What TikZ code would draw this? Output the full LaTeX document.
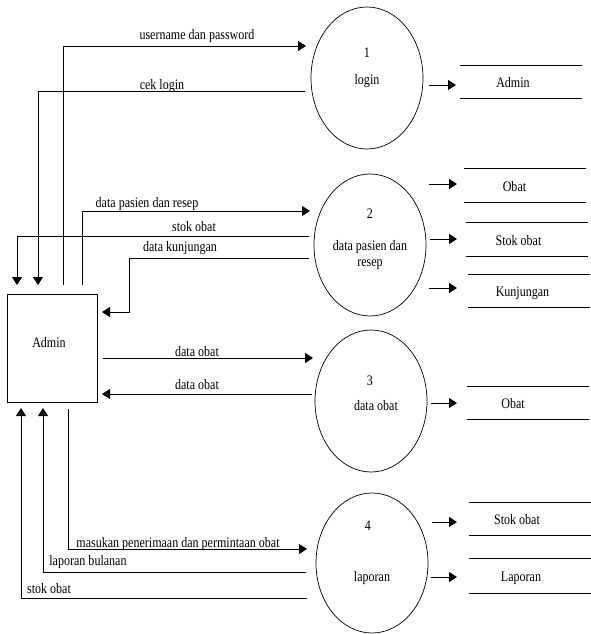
\documentclass[tikz,border=0pt]{standalone}
\usepackage{fontspec}
\setmainfont{Liberation Serif}[FakeStretch=0.83]
\usetikzlibrary{arrows.meta,shapes.geometric,calc}
\begin{document}
\begin{tikzpicture}[x=1pt,y=-1pt,
  every node/.style={font=\fontsize{14.5}{17}\selectfont, inner sep=0pt, outer sep=0pt},
  flow/.style={line width=0.9pt, -{Triangle[length=8pt,width=10pt]}},
  proc/.style={ellipse, draw, line width=0.7pt, minimum width=112pt, minimum height=142pt},
  entity/.style={rectangle, draw, line width=0.9pt, minimum width=90pt, minimum height=108pt},
  store/.style={minimum width=122pt, minimum height=#1, text height=15pt, text depth=2.5pt},
  tshift/.style={execute at begin node={\hspace*{#1}}},
  lbl/.style={anchor=base},
]
\useasboundingbox (0,0) rectangle (590,634);

% external entity
\node[entity] (admin) at (52,348) {};
\node[lbl] (adminT) at (49,347) {Admin};

% processes
\node[proc] (p1) at (367,78) {};
\node[lbl] (p1n) at (367,57) {1};
\node[lbl] (p1t) at (367,84) {login};

\node[proc] (p2) at (370,245) {};
\node[lbl] (p2n) at (370,218) {2};
\node[lbl] (p2t) at (370,250) {data pasien dan};
\node[lbl] (p2u) at (370,266) {resep};

\node[proc] (p3) at (371,401) {};
\node[lbl] (p3n) at (370,385) {3};
\node[lbl] (p3t) at (376,410) {data obat};

\node[proc, minimum height=140pt] (p4) at (372,563) {};
\node[lbl] (p4n) at (368,530) {4};
\node[lbl] (p4t) at (372,581) {laporan};

% data stores
\node[store=33pt, tshift=-16pt] (sA)  at (521,81.5)  {Admin};
\node[store=34pt, tshift=-21pt] (sO2) at (525,185)   {Obat};
\node[store=34pt, tshift=-17pt] (sS2) at (527,239)   {Stok obat};
\node[store=33pt, tshift=-13pt] (sK)  at (529,290.5) {Kunjungan};
\node[store=33pt, tshift=-30pt] (sO3) at (528,402.5) {Obat};
\node[store=33pt, tshift=-26pt] (sS4) at (530,518.5) {Stok obat};
\node[store=35pt, tshift=-18pt] (sL)  at (530,575.5) {Laporan};
\foreach \s in {sA,sO2,sS2,sK,sO3,sS4,sL}
  \draw[line width=0.9pt] (\s.north west) -- (\s.north east)
                          (\s.south west) -- (\s.south east);

% flows between Admin and the processes
\draw[flow] ($(admin.north)+(11,-9)$) |- ($(p1.west)+(-5,-32)$);
\draw[flow] ($(p1.west)+(-6,13)$) -| ($(admin.north)+(-14,-9)$);
\draw[flow] ($(admin.north)+(30,-9)$) |- ($(p2.west)+(-4,-34)$);
\draw[flow] ($(p2.west)+(-5,-9)$) -| ($(admin.north)+(-35,-9)$);
\draw[flow] ($(p2.west)+(-5,13)$) -| ($(admin.east)+(32,-36)$) -- ($(admin.east)+(5,-36)$);
\draw[flow] ($(admin.east)+(6,10)$) -- ($(p3.west)+(-2,-43)$);
\draw[flow] ($(p3.west)+(-3,-7)$) -- ($(admin.east)+(5,46)$);
\draw[flow] ($(admin.south)+(16,7)$) |- ($(p4.west)+(-9,-14)$);
\draw[flow] ($(p4.west)+(-10,9)$) -| ($(admin.south)+(-9,6)$);
\draw[flow] ($(p4.west)+(-9,35)$) -| ($(admin.south)+(-31,6)$);

% flow labels
\node[lbl] (f1) at (197,40)  {username dan password};
\node[lbl] (f2) at (162,89)  {cek login};
\node[lbl] (f3) at (147,207) {data pasien dan resep};
\node[lbl] (f4) at (194,231) {stok obat};
\node[lbl] (f5) at (180,251) {data kunjungan};
\node[lbl] (f6) at (197,356) {data obat};
\node[lbl] (f7) at (197,389) {data obat};
\node[lbl] (f8) at (178,547) {masukan penerimaan dan permintaan obat};
\node[lbl] (f9) at (88,565)  {laporan bulanan};
\node[lbl] (f10) at (49,593) {stok obat};

% flows from the processes to the data stores
\draw[flow] ($(p1.east)+(6,7)$) -- ($(sA.west)+(-4,3.5)$);
\draw[flow] ($(p2.east)+(3,-61)$) -- ($(sO2.west)+(-7,-1)$);
\draw[flow] ($(p2.east)+(4,-6)$) -- ($(sS2.west)+(-9,0)$);
\draw[flow] ($(p2.east)+(3,43)$) -- ($(sK.west)+(-11,-2.5)$);
\draw[flow] ($(p3.east)+(4,2)$) -- ($(sO3.west)+(-10,0.5)$);
\draw[flow] ($(p4.east)+(4,-41)$) -- ($(sS4.west)+(-12,3.5)$);
\draw[flow] ($(p4.east)+(3,14)$) -- ($(sL.west)+(-12,1.5)$);
\end{tikzpicture}
\end{document}
